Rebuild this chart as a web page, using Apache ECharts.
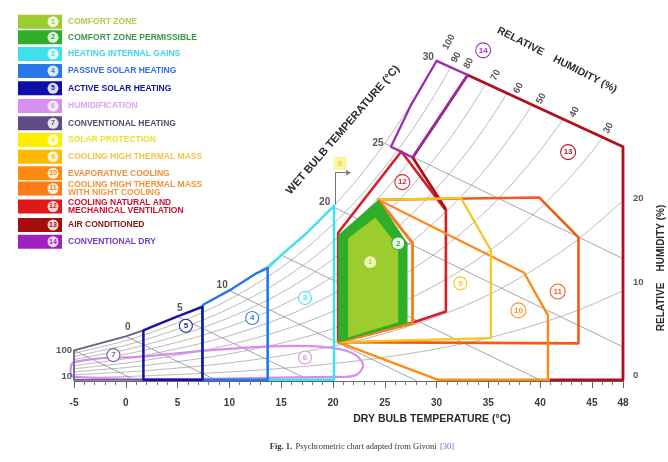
<!DOCTYPE html>
<html><head><meta charset="utf-8">
<script src="https://cdn.jsdelivr.net/npm/echarts@6/dist/echarts.min.js"></script>
<style>html,body{margin:0;padding:0;background:#fff}#c{width:668px;height:462px}</style>
</head><body><div id="c"></div>
<script>
// ---------- DATA (dry bulb °C, humidity ratio g/kg) ----------
const satT = [-5,-2.5,0,2.5,5,7.5,10,12.5,15,17.5,20,22.5,25,27.5,30,32.5,35,37.5,40,42.5,45,47.5,48];
const satW = [2.6,3.2,3.8,4.6,5.5,6.5,7.7,9.1,10.7,12.6,14.8,17.3,20.2,23.5,27.3,31.6,36.6,42.4,49.0,56.4,65.0,74.7,76.6];
const rhLevels = [10,20,30,40,50,60,70,80,90,100];
const wb30Line = [[30,27.3],[48,19.9]];
const wbTemps  = [-5,0,5,10,15,20,25,30];
const wbStartW = [2.6,3.8,5.5,7.7,10.7,14.8,20.2,27.3];
const wbEndT   = [1.1,8.9,17.9,28.1,40.2,48,48,48];
const wbEndW   = [0,0,0,0,0,2.9,10.4,19.9];

const zoneNames = ['COMFORT ZONE','COMFORT ZONE PERMISSIBLE','HEATING INTERNAL GAINS','PASSIVE SOLAR HEATING','ACTIVE SOLAR HEATING','HUMIDIFICATION','CONVENTIONAL HEATING','SOLAR PROTECTION','COOLING HIGH THERMAL MASS','EVAPORATIVE COOLING','COOLING HIGH THERMAL MASS\nWITH NIGHT COOLING','COOLING NATURAL AND\nMECHANICAL VENTILATION','AIR CONDITIONED','CONVENTIONAL DRY'];
const zoneColors = ['#9ccc2e','#2fae2a','#3fe0ee','#2a78e6','#0d0da8','#d98ef2','#5e4d82','#ffee00','#ffb800','#ff8a10','#ff7a18','#e01818','#a50c0c','#a01fbf'];
const zoneTextColors = ['#bcc84e','#3c9848','#3fd6e8','#2e6fe0','#1111a0','#dfa2f2','#5a4a78','#eee02a','#f5c24a','#f29030','#f5943a','#cc1035','#8c1414','#7040c8'];
const zoneLineColors = ['#9ccc2e','#2fae2a','#38e2f2','#2477ea','#1414a2','#d68cf0','#6d5f8a','#ffee00','#f8c41e','#ff8a1a','#f25a1c','#d61f2a','#b0101c','#9a2ab4'];

// heating zones (7,5,4,3) split at these dry-bulb temperatures, top on saturation
const heatEdgeT = [-5,1.7,7.4,13.7,20.1];
const heatEdgeW = [2.6,4.3,6.3,9.6,14.9];
const heatZoneIds = [7,5,4,3];

const zone1Pts = [[21.45,3.7],[21.45,12.1],[24.1,13.9],[26.3,11.4],[26.3,5.0]];
const zone2Pts = [[20.5,3.3],[20.5,12.4],[24.4,15.4],[27.2,11.7],[27.2,4.9]];
const zone6Pts = [[-5,0.35],[-5,1.6],[2,2.1],[8,2.6],[14,2.95],[19,2.9],[21.8,2.4],[22.9,1.4],[22.2,0.5],[20,0.35]];
const coolLeftChain = [[20.5,3.3],[27.7,4.9],[27.7,11.7],[24.4,15.4]];
const zone9Right  = [[32.35,15.55],[35.25,11.1],[35.25,3.65]];
const zone10Right = [[38.45,9.2],[40.75,5.6],[40.75,0.1],[30.15,0.1]];
const zone11Right = [[39.9,15.6],[43.7,12.2],[43.7,3.2]];
const zone12Pts = [[20.5,12.6],[26.6,19.5],[30.9,14.5],[30.9,5.9],[27.8,5.0],[20.5,3.3]];
const zone13Line = [[30.9,14.6],[27.7,19.0],[33.0,26.0],[48,19.9],[48,0.1],[40.9,0.1]];
const zone14Pts = [[25.6,19.9],[27.5,23.4],[30,27.2],[33.0,26.0],[27.7,19.0]];
const zone8Arrow = [[20.2,15.0],[20.2,17.7],[21.7,17.7]];

const labelNums = [1,2,3,4,5,6,7,8,9,10,11,12,13,14];
const labelT = [23.6,26.3,17.3,12.2,5.8,17.3,-1.2,20.7,32.3,37.9,41.7,26.7,42.7,34.5];
const labelW = [10.1,11.7,7.05,5.35,4.7,2.0,2.2,18.5,8.3,6.0,7.6,16.9,19.45,28.1];

const wbLabelText = ['0','5','10','20','25','30'];
const wbLabelT = [0.2,5.2,9.3,19.2,24.35,29.2];
const wbLabelW = [4.6,6.2,8.15,15.2,20.2,27.5];

const rhTopText = ['100','90','80','70','60','50','40','30'];
const rhTopT = [31.2,31.9,33.1,35.7,37.9,40.1,43.3,46.6];
const rhTopW = [28.8,27.5,27.0,26.0,24.9,24.0,22.85,21.5];
const rhRightText = ['20','10','0'];
const rhRightW = [15.5,8.4,0.5];
const rhLeftText = ['100','10'];
const rhLeftW = [2.6,0.42];

const xTicks = [-5,48];
// ---------- BUILD ----------
const series = [];
function boundaryAt(t){const a=wb30Line[0],b=wb30Line[1];return a[1]+(b[1]-a[1])*(t-a[0])/(b[0]-a[0]);}
rhLevels.forEach(lv=>{
  const pts=[];
  for(let i=0;i<satT.length;i++){
    const t=satT[i], w=satW[i]*lv/100;
    const lim = t>=wb30Line[0][0]?boundaryAt(t):Infinity;
    if(w<=lim+1e-9){pts.push([t,w]);continue;}
    const tp=satT[i-1], wp=satW[i-1]*lv/100;
    const fp=wp-boundaryAt(tp), fc=w-boundaryAt(t);
    const s=fp/(fp-fc);
    pts.push([tp+(t-tp)*s, wp+(w-wp)*s]);
    break;
  }
  series.push({type:'line',data:pts,smooth:0.3,symbol:'none',silent:true,z:1,
    lineStyle:{color:'#9c9c9c',width:0.7}});
});
wbTemps.forEach((t,i)=>{
  series.push({type:'line',data:[[t,wbStartW[i]],[wbEndT[i],wbEndW[i]]],symbol:'none',silent:true,z:1,
    lineStyle:{color:'#7e7e7e',width:0.7}});
});

function poly(pts,fill,stroke,lw,z,smooth){
  return {type:'custom',coordinateSystem:'cartesian2d',silent:true,z:z,data:[[0,0]],
    renderItem:(p,api)=>({type:'polygon',shape:{points:pts.map(q=>api.coord(q)),smooth:smooth||0},
      style:{fill:fill,stroke:stroke,lineWidth:lw,lineJoin:'round'}})};
}
function pline(pts,stroke,lw,z){
  return {type:'custom',coordinateSystem:'cartesian2d',silent:true,z:z,data:[[0,0]],
    renderItem:(p,api)=>({type:'polyline',shape:{points:pts.map(q=>api.coord(q))},
      style:{fill:null,stroke:stroke,lineWidth:lw,lineJoin:'round'}})};
}
function col(n){return zoneLineColors[n-1];}

// humidification
series.push(poly(zone6Pts,null,col(6),2.2,3,0.35));
// heating zones in drawing order 7,3,4,5
[0,3,2,1].forEach(k=>{
  const t0=heatEdgeT[k],t1=heatEdgeT[k+1];
  const pts=[[t0,0.1],[t0,heatEdgeW[k]]];
  satT.forEach((t,i)=>{if(t>t0&&t<t1)pts.push([t,satW[i]]);});
  pts.push([t1,heatEdgeW[k+1]],[t1,0.1]);
  series.push(poly(pts,null,col(heatZoneIds[k]),k===0?1.8:2.4,3+(k===0?0:k===3?1:k===2?2:3)));
});
// cooling zones
series.push(poly(zone12Pts,null,col(12),2.6,3));
series.push(pline(zone13Line,col(13),2.8,4));
series.push(poly(zone14Pts,null,col(14),2.2,4));
series.push(poly(coolLeftChain.concat(zone11Right),null,col(11),2.6,4));
series.push(poly(coolLeftChain.concat(zone10Right),null,col(10),2.4,5));
series.push(poly(coolLeftChain.concat(zone9Right),null,col(9),2.2,5));
series.push(pline(coolLeftChain,'#ff7a18',2.4,6));
// comfort fills
series.push(poly(zone2Pts,zoneColors[1],null,0,7));
series.push(poly(zone1Pts,zoneColors[0],null,0,8));
// solar protection arrow
series.push({type:'line',data:[],symbol:'none',silent:true,z:6,
  markLine:{silent:true,animation:false,symbol:['none','arrow'],symbolSize:5,label:{show:false},
    lineStyle:{color:'#777',width:1,type:'solid'},
    data:[[{coord:zone8Arrow[0],symbol:'none'},{coord:zone8Arrow[1],symbol:'none'}],
          [{coord:zone8Arrow[1],symbol:'none'},{coord:zone8Arrow[2]}]]}});

// zone number markers
series.push({type:'scatter',silent:true,z:10,
  data:labelNums.map((n,i)=>({value:[labelT[i],labelW[i]],
    symbol:n===8?'rect':'circle',symbolSize:n===8?[13,13]:(n>9?15:13),
    itemStyle:{color:n===8?'#fbf59a':(n===1?'#f4f8c0':'#ffffff'),borderColor:n===8?'#f3e86a':col(n),borderWidth:n===8?0:1.1,opacity:0.95},
    label:{show:true,position:'inside',formatter:String(n),color:n===8?'#e8d84a':(n===1?'#b9cc3c':col(n)),fontSize:8,fontWeight:'bold'}}))});

function textSeries(items,lab){
  return {type:'scatter',silent:true,z:11,clip:false,symbolSize:0.1,itemStyle:{color:'rgba(0,0,0,0)'},
    label:Object.assign({show:true,color:'#2a2a2a',fontWeight:'bold',fontSize:10,fontFamily:'Liberation Sans'},lab),
    data:items};
}
series.push(textSeries(wbLabelText.map((s,i)=>({value:[wbLabelT[i],wbLabelW[i]],label:{formatter:s}})),{position:'inside'}));
series.push(textSeries(rhTopText.map((s,i)=>({value:[rhTopT[i],rhTopW[i]],label:{formatter:s}})),{position:'inside',rotate:62,fontSize:9.5}));
series.push(textSeries(rhRightText.map((s,i)=>({value:[48,rhRightW[i]],label:{formatter:s}})),{position:'right',distance:10,fontSize:9.5}));
series.push(textSeries(rhLeftText.map((s,i)=>({value:[-5,rhLeftW[i]],label:{formatter:s}})),{position:'left',distance:2,fontSize:9.5}));

// legend graphics
const legendY=[21.7,37.3,54,71,88.3,106,123.3,140,156.7,173.3,188.5,206.5,225,241.7];
const graphic=[];
zoneNames.forEach((nm,i)=>{
  const cy=legendY[i];
  graphic.push({type:'rect',shape:{x:18,y:cy-7,width:44,height:14},style:{fill:zoneColors[i]},silent:true});
  graphic.push({type:'circle',shape:{cx:53,cy:cy,r:5.5},style:{fill:'rgba(255,255,255,0.85)'},silent:true});
  graphic.push({type:'text',x:53,y:cy,silent:true,style:{text:String(i+1),fill:zoneColors[i],font:'bold 7px Liberation Sans',align:'center',verticalAlign:'middle',textAlign:'center',textVerticalAlign:'middle'}});
  graphic.push({type:'text',x:68,y:cy,silent:true,style:{text:nm,fill:zoneTextColors[i],font:'bold 8.5px Liberation Sans',lineHeight:8,align:'left',verticalAlign:'middle',textAlign:'left',textVerticalAlign:'middle'}});
});
function gtext(txt,x,y,rot,font,fill){
  return {type:'text',x:x,y:y,rotation:rot,silent:true,z:20,style:{text:txt,font:font,fill:fill||'#2a2a2a',align:'center',verticalAlign:'middle',textAlign:'center',textVerticalAlign:'middle'}};
}
graphic.push(gtext('WET BULB TEMPERATURE (°C)',343,130,49*Math.PI/180,'bold 11px Liberation Sans'));
graphic.push(gtext('RELATIVE    HUMIDITY (%)',557,60,-27*Math.PI/180,'bold 10.5px Liberation Sans'));
graphic.push(gtext('RELATIVE    HUMIDITY (%)',661,268,Math.PI/2,'bold 10px Liberation Sans'));
graphic.push(gtext('DRY BULB TEMPERATURE (°C)',432,419,0,'bold 10.5px Liberation Sans'));
graphic.push({type:'text',x:362,y:447,silent:true,z:20,style:{
  text:'{a|Fig. 1.} {b|Psychrometric chart adapted from Givoni} {c|[30]}',
  rich:{a:{font:'bold 8.5px Liberation Serif',fill:'#333'},b:{font:'8.5px Liberation Serif',fill:'#333'},c:{font:'8.5px Liberation Serif',fill:'#5a78c8'}},
  align:'center',verticalAlign:'middle',textAlign:'center',textVerticalAlign:'middle'}});

const chart=echarts.init(document.getElementById('c'));
chart.setOption({
  animation:false,
  backgroundColor:'#ffffff',
  grid:{left:74,right:45,top:28,bottom:81,containLabel:false},
  xAxis:{type:'value',min:xTicks[0],max:xTicks[1],interval:5,
    axisLine:{lineStyle:{color:'#666',width:1}},
    axisTick:{show:true,length:7,lineStyle:{color:'#666'}},
    minorTick:{show:true,splitNumber:5,length:4,lineStyle:{color:'#777'}},
    splitLine:{show:false},minorSplitLine:{show:false},
    axisLabel:{fontWeight:'bold',fontSize:10,color:'#3a3a3a',margin:17,fontFamily:'Liberation Sans',showMaxLabel:true,showMinLabel:true}},
  yAxis:{type:'value',min:0,max:30,show:false},
  graphic:graphic,
  series:series
});
</script></body></html>
